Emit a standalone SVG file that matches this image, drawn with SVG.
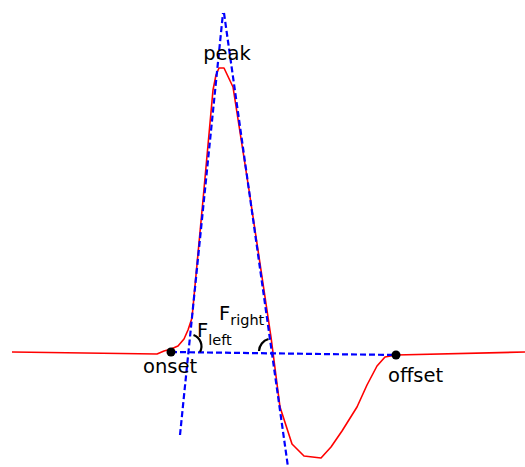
<svg xmlns="http://www.w3.org/2000/svg" width="525" height="467" viewBox="0 0 525 467">
<style>
.sig{fill:none;stroke:#ff0000;stroke-width:1.6;stroke-linejoin:round}
.fit{fill:none;stroke:#0000ff;stroke-width:2.2;stroke-dasharray:6,3}
.arc{fill:none;stroke:#000;stroke-width:2.2}
text{font-family:"DejaVu Sans","Liberation Sans",sans-serif;font-size:19.5px;fill:#000}
.sub{font-size:14.5px}
</style>
<rect width="525" height="467" fill="#fff"/>
<g id="signal">
<polyline class="sig" points="12,352 157,354 164,351 171,349 178,346 184,339 188,330 192,318 203,200 213,90 216,75 219,68 224,68 233,87 249,190 271,337 280,407 292,444 304,456 321,458 331,447 342,431 357,407 367,385 377,366 385,357 396,355 525,352"/>
</g>
<g id="connectors">
<line class="fit" x1="180" y1="435" x2="223" y2="13"/>
<line class="fit" x1="224" y1="13" x2="288" y2="467"/>
<line class="fit" x1="171" y1="352" x2="396" y2="355"/>
</g>
<g id="angle-left">
<path class="arc" d="M 193.5 335 A 12 12 0 0 1 200 352"/>
</g>
<g id="angle-right">
<path class="arc" d="M 259 351 A 13 13 0 0 1 268.5 339"/>
</g>
<g id="onset">
<circle cx="171" cy="352" r="4.5" fill="#000"/>
<text x="143" y="373">onset</text>
</g>
<g id="offset">
<circle cx="396" cy="355" r="4.5" fill="#000"/>
<text x="388" y="382">offset</text>
</g>
<g id="peak">
<text x="227" y="60" text-anchor="middle">peak</text>
</g>
<g id="F-left">
<text x="197" y="337">F<tspan class="sub" dy="8">left</tspan></text>
</g>
<g id="F-right">
<text x="219" y="320">F<tspan class="sub" dy="5">right</tspan></text>
</g>
</svg>
